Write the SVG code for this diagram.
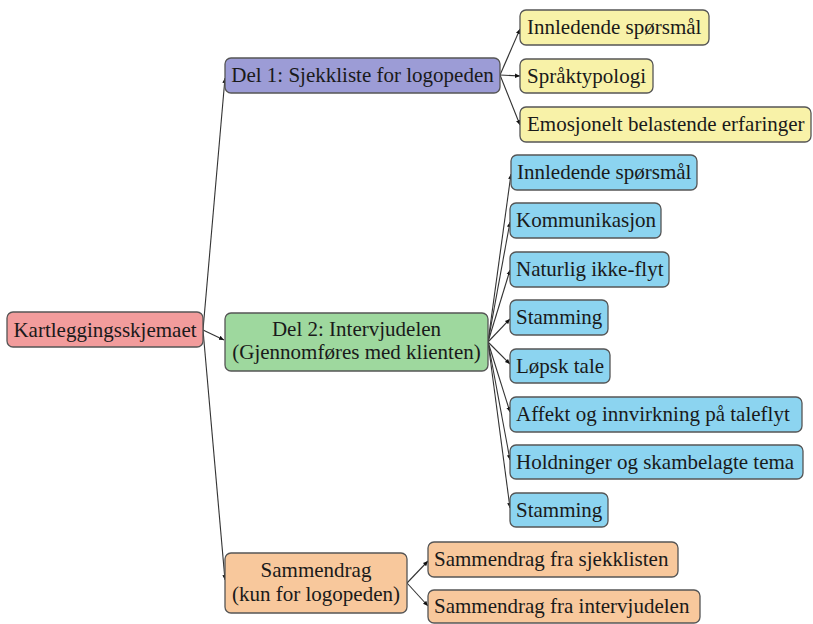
<svg xmlns="http://www.w3.org/2000/svg" width="813" height="624" viewBox="0 0 813 624">
<defs>
<style>
.box{stroke:#555;stroke-width:1.3}
.t{font-family:"Liberation Serif","DejaVu Serif",serif;font-size:21px;fill:#1a1a1a}
.c{text-anchor:middle}
.red{fill:#F29C9C}
.vio{fill:#9C9CD6}
.grn{fill:#9ED89E}
.org{fill:#F8C89C}
.yel{fill:#F8F2A8}
.blu{fill:#8CD4F0}
.e{stroke:#333;stroke-width:1.1;fill:none;marker-end:url(#ah)}
</style>
<marker id="ah" markerWidth="6" markerHeight="6" refX="5" refY="3" orient="auto" markerUnits="userSpaceOnUse">
<path d="M0,0.8 L5,3 L0,5.2 Z" fill="#111"/>
</marker>
</defs>
<rect width="813" height="624" fill="#fff"/>
<g id="connectors">
<line class="e" x1="203" y1="330" x2="225" y2="78"/>
<line class="e" x1="203" y1="330" x2="224" y2="340"/>
<line class="e" x1="203" y1="330" x2="225" y2="580"/>
<line class="e" x1="500" y1="75" x2="520" y2="29"/>
<line class="e" x1="500" y1="75" x2="520" y2="76"/>
<line class="e" x1="500" y1="75" x2="520" y2="125"/>
<line class="e" x1="488" y1="342" x2="511" y2="174"/>
<line class="e" x1="488" y1="342" x2="510" y2="222"/>
<line class="e" x1="488" y1="342" x2="510" y2="270"/>
<line class="e" x1="488" y1="342" x2="510" y2="319"/>
<line class="e" x1="488" y1="342" x2="510" y2="364"/>
<line class="e" x1="488" y1="342" x2="510" y2="412"/>
<line class="e" x1="488" y1="342" x2="510" y2="460"/>
<line class="e" x1="488" y1="342" x2="510" y2="508"/>
<line class="e" x1="407" y1="583" x2="428" y2="561"/>
<line class="e" x1="407" y1="583" x2="428" y2="606"/>
</g>
<g id="root"><rect class="box red" x="7" y="312" width="196" height="35" rx="6"/><text class="t c" x="105" y="337">Kartleggingsskjemaet</text></g>
<g id="del1"><rect class="box vio" x="225" y="58" width="275" height="35" rx="6"/><text class="t c" x="362.5" y="82">Del 1: Sjekkliste for logopeden</text></g>
<g id="del2"><rect class="box grn" x="225" y="313" width="263" height="58" rx="6"/><text class="t c" x="356.5" y="336">Del 2: Intervjudelen</text><text class="t c" x="356.5" y="359">(Gjennomføres med klienten)</text></g>
<g id="sammendrag"><rect class="box org" x="225" y="553" width="182" height="60" rx="6"/><text class="t c" x="316" y="577">Sammendrag</text><text class="t c" x="316" y="601">(kun for logopeden)</text></g>
<g id="y1"><rect class="box yel" x="520" y="10" width="189" height="35" rx="6"/><text class="t" x="527" y="34">Innledende spørsmål</text></g>
<g id="y2"><rect class="box yel" x="520" y="59" width="133" height="34" rx="6"/><text class="t" x="527" y="83">Språktypologi</text></g>
<g id="y3"><rect class="box yel" x="520" y="107" width="291" height="35" rx="6"/><text class="t" x="527" y="131">Emosjonelt belastende erfaringer</text></g>
<g id="b1"><rect class="box blu" x="511" y="155" width="186" height="35" rx="6"/><text class="t" x="517" y="179">Innledende spørsmål</text></g>
<g id="b2"><rect class="box blu" x="510" y="203" width="151" height="35" rx="6"/><text class="t" x="516" y="227">Kommunikasjon</text></g>
<g id="b3"><rect class="box blu" x="510" y="252" width="159" height="35" rx="6"/><text class="t" x="516" y="276">Naturlig ikke-flyt</text></g>
<g id="b4"><rect class="box blu" x="510" y="300" width="98" height="35" rx="6"/><text class="t" x="516" y="324">Stamming</text></g>
<g id="b5"><rect class="box blu" x="510" y="349" width="100" height="34" rx="6"/><text class="t" x="516" y="373">Løpsk tale</text></g>
<g id="b6"><rect class="box blu" x="510" y="397" width="292" height="35" rx="6"/><text class="t" x="516" y="421">Affekt og innvirkning på taleflyt</text></g>
<g id="b7"><rect class="box blu" x="510" y="445" width="293" height="34" rx="6"/><text class="t" x="516" y="469">Holdninger og skambelagte tema</text></g>
<g id="b8"><rect class="box blu" x="510" y="493" width="98" height="34" rx="6"/><text class="t" x="516" y="517">Stamming</text></g>
<g id="s1"><rect class="box org" x="428" y="542" width="250" height="35" rx="6"/><text class="t" x="434" y="566">Sammendrag fra sjekklisten</text></g>
<g id="s2"><rect class="box org" x="428" y="590" width="272" height="33" rx="6"/><text class="t" x="434" y="613">Sammendrag fra intervjudelen</text></g>
</svg>
